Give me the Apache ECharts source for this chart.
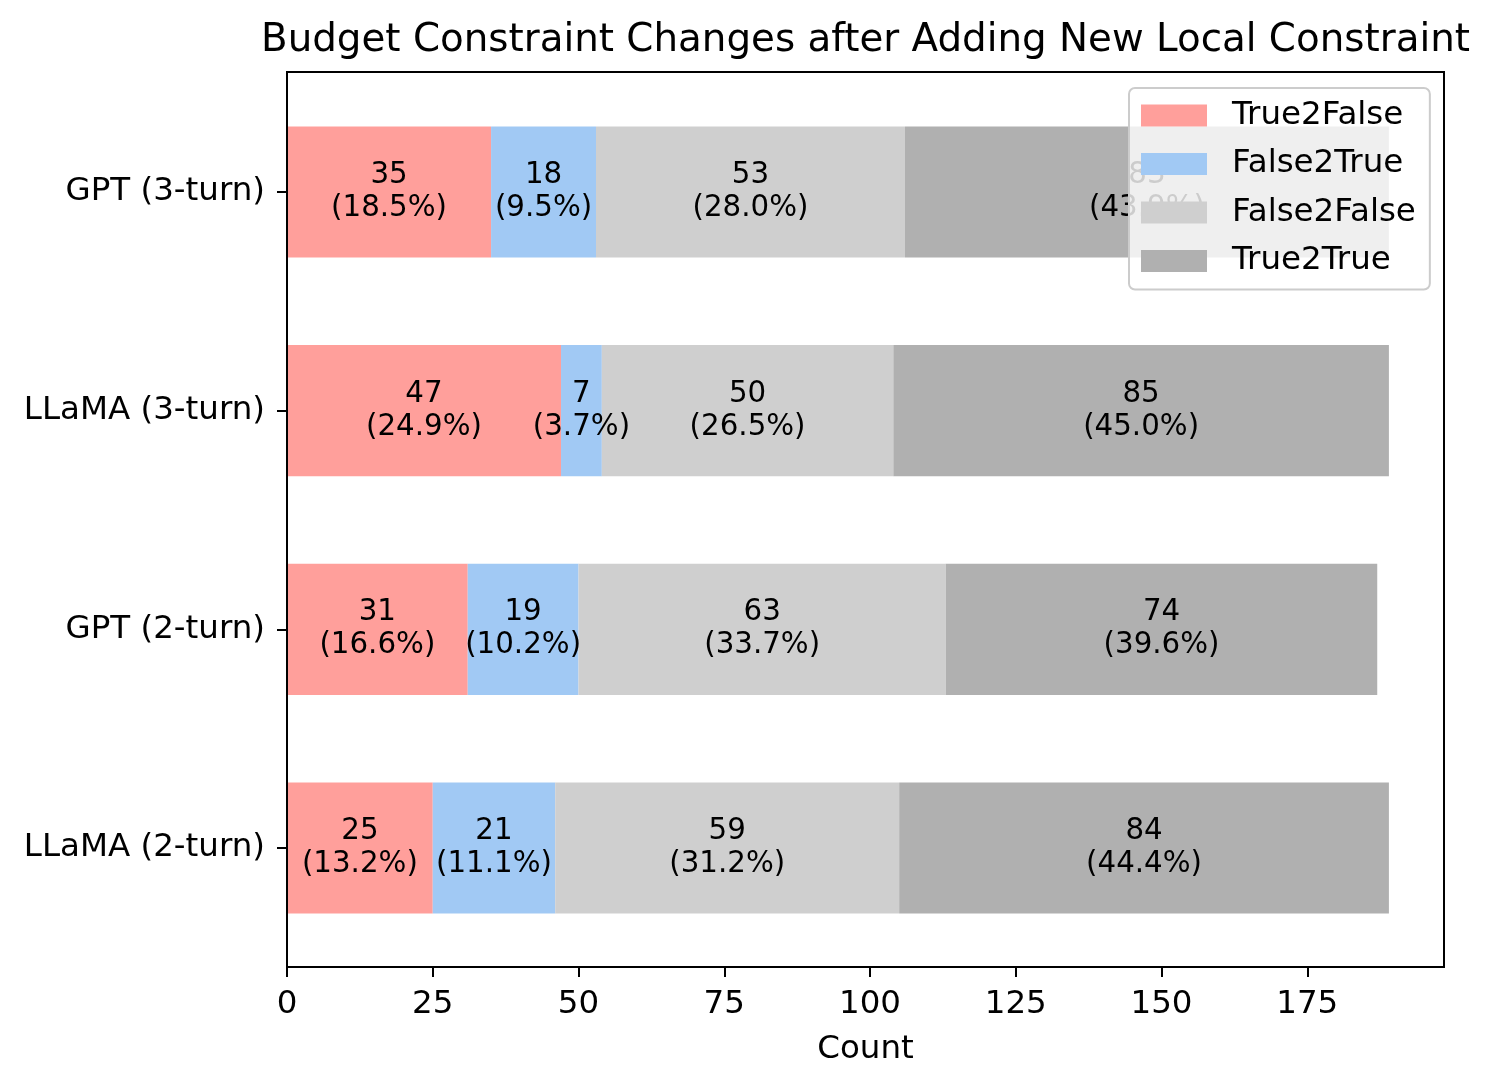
<!DOCTYPE html>
<html><head><meta charset="utf-8">
<script src="https://cdn.jsdelivr.net/npm/echarts@6/dist/echarts.min.js"></script>
<style>html,body{margin:0;padding:0;background:#fff}#c{width:1494px;height:1089px}</style>
</head><body><div id="c"></div>
<script>
const categories = ['LLaMA (2-turn)', 'GPT (2-turn)', 'LLaMA (3-turn)', 'GPT (3-turn)'];
const true2False = [25, 31, 47, 35];
const false2True = [21, 19, 7, 18];
const false2False = [59, 63, 50, 53];
const true2True = [84, 74, 85, 83];
const xTicks = [0, 25, 50, 75, 100, 125, 150, 175];
const seriesNames = ['True2False', 'False2True', 'False2False', 'True2True'];
const colors = ['#ff9f9b', '#a1c9f4', '#cfcfcf', '#b0b0b0'];
const seriesData = [true2False, false2True, false2False, true2True];

const totals = categories.map((_, i) => seriesData.reduce((s, a) => s + a[i], 0));
const xMax = Math.max(...totals) * 1.05;
const FONT = 'DejaVu Sans';

const chart = echarts.init(document.getElementById('c'), null, {renderer: 'canvas'});
const option = {
  animation: false,
  backgroundColor: '#fff',
  textStyle: {fontFamily: FONT, color: '#000'},
  grid: {left: 287, width: 1157, top: 82.67, height: 874.67, containLabel: false},
  xAxis: {
    type: 'value', min: 0, max: xMax, interval: 25, offset: 9.67,
    name: 'Count', nameLocation: 'middle', nameGap: 66,
    nameTextStyle: {fontFamily: FONT, fontSize: 32.5, color: '#000'},
    axisLine: {show: false},
    splitLine: {show: false},
    axisTick: {show: true, length: 10, lineStyle: {color: '#000', width: 2}, customValues: xTicks},
    axisLabel: {fontFamily: FONT, fontSize: 32.5, color: '#000', margin: 21, customValues: xTicks}
  },
  yAxis: {
    type: 'category', data: categories,
    axisLine: {show: false},
    axisTick: {show: true, alignWithLabel: true, length: 10, lineStyle: {color: '#000', width: 2}},
    axisLabel: {fontFamily: FONT, fontSize: 32.5, color: '#000', margin: 22},
    splitLine: {show: false}
  },
  legend: {
    orient: 'vertical', left: 1129, top: 88,
    itemWidth: 66, itemHeight: 22, itemGap: 15.5, icon: 'rect',
    backgroundColor: 'rgba(255,255,255,0.8)', borderColor: '#cccccc', borderWidth: 2, borderRadius: 6,
    padding: [11, 14, 12, 12],
    textStyle: {fontFamily: FONT, fontSize: 32.5, color: '#000', padding: [0, 0, 0, 20]},
    data: seriesNames
  },
  graphic: [
    {type: 'text', x: 865.5, y: 41, z: 100,
     style: {text: 'Budget Constraint Changes after Adding New Local Constraint', font: '38.8px "DejaVu Sans"', fill: '#000', textAlign: 'center', textVerticalAlign: 'middle'}},
    {type: 'rect', z: 50, silent: true,
     shape: {x: 287, y: 72, width: 1157, height: 895},
     style: {fill: 'none', stroke: '#000', lineWidth: 2}}
  ],
  series: seriesNames.map((name, k) => ({
    name, type: 'bar', stack: 'total', barWidth: '60%',
    itemStyle: {color: colors[k]},
    label: {
      show: true, position: 'inside', color: '#000', fontFamily: FONT, fontSize: 29.3, lineHeight: 33,
      textBorderWidth: 0,
      formatter: p => p.value + '\n(' + (p.value / totals[p.dataIndex] * 100).toFixed(1) + '%)'
    },
    data: seriesData[k]
  }))
};
chart.setOption(option);
</script></body></html>
